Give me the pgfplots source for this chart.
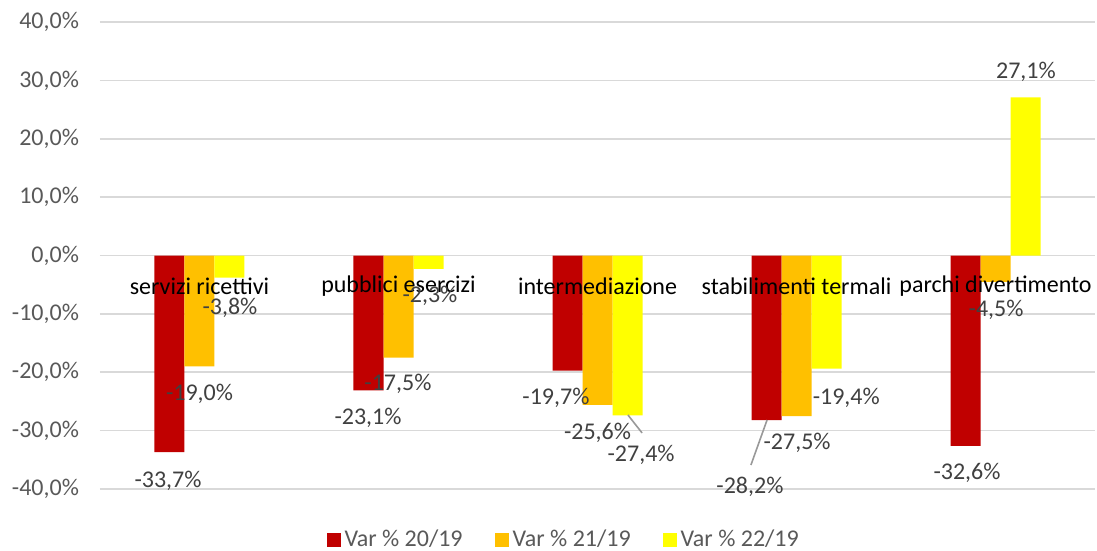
\documentclass[border=0pt]{standalone}
\usepackage{pgfplots}
\pgfplotsset{compat=1.18}
\usepackage{fontspec}
\setmainfont{Carlito}
\definecolor{cRed}{HTML}{C00000}
\definecolor{cOrange}{HTML}{FFC000}
\definecolor{cYellow}{HTML}{FFFF00}
\definecolor{gridc}{HTML}{D9D9D9}
\definecolor{tickc}{HTML}{595959}
\definecolor{labc}{HTML}{404040}
\begin{document}
\begin{tikzpicture}
\begin{axis}[
  name=ax,
  scale only axis,
  clip=false,
  width=497.5pt, height=233.5pt,
  xmin=-0.5, xmax=4.5,
  ymin=-40, ymax=40,
  ybar=0pt, bar width=15pt,
  axis line style={draw=none},
  xtick=\empty,
  ytick={-40,-30,-20,-10,0,10,20,30,40},
  yticklabels={-40{,}0\%,-30{,}0\%,-20{,}0\%,-10{,}0\%,0{,}0\%,10{,}0\%,20{,}0\%,30{,}0\%,40{,}0\%},
  yticklabel style={font=\fontsize{12}{14}\selectfont, text=tickc, xshift=-7pt},
  major tick length=0pt,
  ymajorgrids, grid style={gridc, line width=0.8pt},
  legend style={draw=none, at={(0.467,-0.109)}, anchor=center,
    font=\fontsize{12}{14}\selectfont, text=tickc,
    legend columns=3,
    /tikz/every even column/.append style={column sep=14pt},
    legend cell align=left},
  legend image code/.code={\fill[#1] (0pt,-3.5pt) rectangle (7pt,3.5pt);},
]
\addplot[fill=cRed, draw=none] coordinates {(0,-33.7) (1,-23.1) (2,-19.7) (3,-28.2) (4,-32.6)};
\addplot[fill=cOrange, draw=none] coordinates {(0,-19.0) (1,-17.5) (2,-25.6) (3,-27.5) (4,-4.5)};
\addplot[fill=cYellow, draw=none] coordinates {(0,-3.8) (1,-2.3) (2,-27.4) (3,-19.4) (4,27.1)};
\legend{Var \% 20/19, Var \% 21/19, Var \% 22/19}

% category labels
\begin{scope}[every node/.style={font=\fontsize{12}{14}\selectfont, text=black}]
\node at (axis cs:0,-5.25) {servizi ricettivi};
\node at (axis cs:1,-5.25) {pubblici esercizi};
\node at (axis cs:2,-5.25) {intermediazione};
\node at (axis cs:3,-5.25) {stabilimenti termali};
\node at (axis cs:4,-5.25) {parchi divertimento};
\end{scope}

% leader lines
\draw[gray!80, line width=0.8pt] (axis cs:2.153,-27.32) -- (axis cs:2.224,-30.4);
\draw[gray!80, line width=0.8pt] (axis cs:2.852,-28.18) -- (axis cs:2.771,-35.89);

% data labels
\begin{scope}[every node/.style={font=\fontsize{12}{14}\selectfont, text=labc}]
\node at (axis cs:-0.158,-38.63) {-33,7\%};
\node at (axis cs:0.0,-23.73) {-19,0\%};
\node at (axis cs:0.153,-8.9) {-3,8\%};
\node at (axis cs:0.847,-27.83) {-23,1\%};
\node at (axis cs:0.997,-22.01) {-17,5\%};
\node at (axis cs:1.158,-6.94) {-2,3\%};
\node at (axis cs:1.791,-24.41) {-19,7\%};
\node at (axis cs:2.0,-30.4) {-25,6\%};
\node at (axis cs:2.219,-34.2) {-27,4\%};
\node at (axis cs:2.766,-39.6) {-28,2\%};
\node at (axis cs:3.003,-32.12) {-27,5\%};
\node at (axis cs:3.25,-24.41) {-19,4\%};
\node at (axis cs:4.153,31.43) {27,1\%};
\node at (axis cs:3.857,-37.26) {-32,6\%};
\node at (axis cs:4.003,-9.34) {-4,5\%};
\end{scope}
\end{axis}
\pgfresetboundingbox
\path[use as bounding box] ([shift={(-50pt,-31pt)}]ax.south west) rectangle ([shift={(1pt,11pt)}]ax.north east);
\end{tikzpicture}
\end{document}
